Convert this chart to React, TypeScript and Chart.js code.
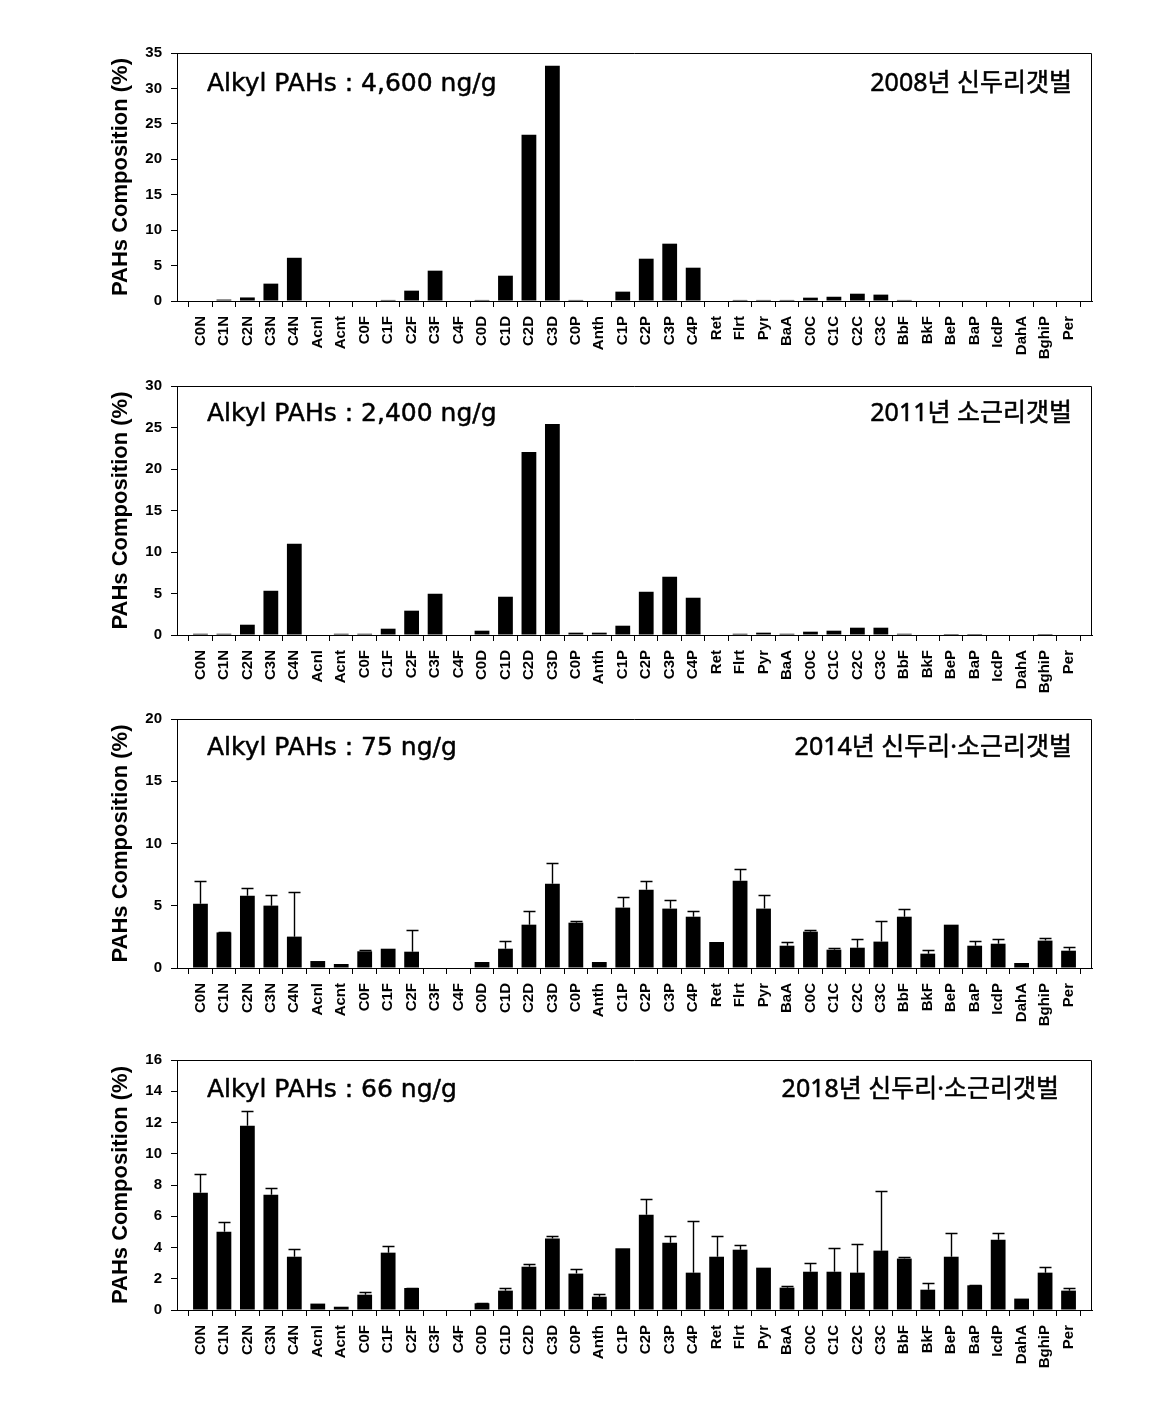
import React, { useEffect, useRef } from 'react';
import { Chart, registerables } from 'chart.js';

Chart.register(...registerables);

const CATEGORIES = [
  'C0N', 'C1N', 'C2N', 'C3N', 'C4N', 'Acnl', 'Acnt', 'C0F', 'C1F', 'C2F', 'C3F', 'C4F',
  'C0D', 'C1D', 'C2D', 'C3D', 'C0P', 'Anth', 'C1P', 'C2P', 'C3P', 'C4P', 'Ret', 'Flrt',
  'Pyr', 'BaA', 'C0C', 'C1C', 'C2C', 'C3C', 'BbF', 'BkF', 'BeP', 'BaP', 'IcdP', 'DahA',
  'BghiP', 'Per',
];

const VALUES_2008 = [
  0, 0.2, 0.5, 2.45, 6.1, 0, 0, 0, 0.15, 1.46, 4.28, 0,
  0.15, 3.57, 23.47, 33.2, 0.15, 0, 1.32, 5.97, 8.09, 4.7, 0, 0.15,
  0.15, 0.15, 0.47, 0.6, 1.03, 0.9, 0.15, 0, 0, 0, 0, 0,
  0, 0,
];

const VALUES_2011 = [
  0.15, 0.15, 1.24, 5.33, 10.99, 0, 0.15, 0.15, 0.76, 2.93, 4.97, 0,
  0.52, 4.61, 22.06, 25.43, 0.28, 0.28, 1.12, 5.21, 7.02, 4.49, 0, 0.15,
  0.28, 0.15, 0.4, 0.52, 0.88, 0.88, 0.15, 0, 0.12, 0.12, 0, 0,
  0.12, 0,
];

const VALUES_2014 = [
  5.17, 2.86, 5.81, 5.01, 2.52, 0.56, 0.32, 1.34, 1.55, 1.31, 0, 0,
  0.48, 1.55, 3.48, 6.77, 3.64, 0.48, 4.85, 6.29, 4.77, 4.12, 2.09, 7.01,
  4.77, 1.79, 2.92, 1.47, 1.63, 2.12, 4.12, 1.15, 3.48, 1.79, 1.95, 0.4,
  2.2, 1.39,
];
const ERRORS_2014 = [
  1.82, 0.05, 0.62, 0.85, 3.6, 0, 0, 0.13, 0, 1.74, 0, 0,
  0, 0.64, 1.1, 1.66, 0.16, 0, 0.85, 0.7, 0.7, 0.46, 0, 0.94,
  1.1, 0.3, 0.16, 0.14, 0.7, 1.66, 0.62, 0.3, 0, 0.4, 0.38, 0,
  0.21, 0.3,
];

const VALUES_2018 = [
  7.51, 5.01, 11.8, 7.38, 3.41, 0.41, 0.21, 0.98, 3.67, 1.41, 0, 0,
  0.43, 1.24, 2.77, 4.57, 2.33, 0.85, 3.95, 6.1, 4.31, 2.39, 3.41, 3.86,
  2.71, 1.43, 2.45, 2.45, 2.39, 3.8, 3.29, 1.3, 3.41, 1.58, 4.5, 0.73,
  2.39, 1.24,
];
const ERRORS_2018 = [
  1.19, 0.62, 0.96, 0.45, 0.49, 0, 0, 0.17, 0.43, 0.03, 0, 0,
  0.03, 0.17, 0.17, 0.17, 0.3, 0.17, 0, 1.0, 0.43, 3.31, 1.33, 0.3,
  0, 0.11, 0.55, 1.52, 1.83, 3.82, 0.1, 0.43, 1.52, 0.03, 0.43, 0,
  0.36, 0.17,
];

const LEFT_TEXTS = [
  'Alkyl PAHs : 4,600 ng/g',
  'Alkyl PAHs : 2,400 ng/g',
  'Alkyl PAHs : 75 ng/g',
  'Alkyl PAHs : 66 ng/g',
];
const RIGHT_TEXTS = [
  '2008년 신두리갯벌',
  '2011년 소근리갯벌',
  '2014년 신두리·소근리갯벌',
  '2018년 신두리·소근리갯벌',
];
const Y_MAX = [35, 30, 20, 16];
const Y_STEP = [5, 5, 5, 2];
const Y_TITLE = 'PAHs Composition (%)';

type PanelCfg = {
  values: number[];
  errors: number[] | null;
  yMax: number;
  yStep: number;
  leftText: string;
  rightText: string;
  top: number;
  plotHeight: number;
  textDy: number;
  rightInset: number;
};

const PANELS: PanelCfg[] = [
  { values: VALUES_2008, errors: null, yMax: Y_MAX[0], yStep: Y_STEP[0], leftText: LEFT_TEXTS[0], rightText: RIGHT_TEXTS[0], top: 53, plotHeight: 248, textDy: 38, rightInset: 20 },
  { values: VALUES_2011, errors: null, yMax: Y_MAX[1], yStep: Y_STEP[1], leftText: LEFT_TEXTS[1], rightText: RIGHT_TEXTS[1], top: 386, plotHeight: 249, textDy: 34.5, rightInset: 20 },
  { values: VALUES_2014, errors: ERRORS_2014, yMax: Y_MAX[2], yStep: Y_STEP[2], leftText: LEFT_TEXTS[2], rightText: RIGHT_TEXTS[2], top: 719, plotHeight: 249, textDy: 36, rightInset: 20 },
  { values: VALUES_2018, errors: ERRORS_2018, yMax: Y_MAX[3], yStep: Y_STEP[3], leftText: LEFT_TEXTS[3], rightText: RIGHT_TEXTS[3], top: 1060, plotHeight: 250, textDy: 36.7, rightInset: 33 },
];

const PAD_TOP = 20;
const X_AXIS_H = 80;
const CANVAS_W = 1150;
const Y_AXIS_W = 177;
const PAD_RIGHT = 58;
const AXIS_FONT = { family: '"Liberation Sans", Arial, sans-serif', size: 15, weight: 'bold' as const };

function Panel({ cfg }: { cfg: PanelCfg }) {
  const ref = useRef<HTMLCanvasElement>(null);
  const H = PAD_TOP + cfg.plotHeight + X_AXIS_H;

  useEffect(() => {
    const canvas = ref.current;
    if (!canvas) return;

    const decor = {
      id: 'decor',
      afterDatasetsDraw(chart: any) {
        const errs = cfg.errors;
        if (!errs) return;
        const xs = chart.scales.x;
        const ys = chart.scales.y;
        const ctx = chart.ctx;
        ctx.save();
        ctx.strokeStyle = '#000';
        ctx.lineWidth = 1.4;
        errs.forEach((e, i) => {
          if (!e) return;
          const v = cfg.values[i];
          const x = Math.round(xs.getPixelForValue(i)) + 0.5;
          const y0 = ys.getPixelForValue(v);
          const y1 = Math.round(ys.getPixelForValue(v + e)) + 0.5;
          ctx.beginPath();
          ctx.moveTo(x, y0);
          ctx.lineTo(x, y1);
          ctx.moveTo(x - 6, y1);
          ctx.lineTo(x + 6, y1);
          ctx.stroke();
        });
        ctx.restore();
      },
      afterDraw(chart: any) {
        const { ctx, chartArea } = chart;
        const { left, right, top, bottom } = chartArea;
        ctx.save();
        ctx.strokeStyle = '#000';
        ctx.lineWidth = 1;
        ctx.beginPath();
        const t = Math.round(top) + 0.5;
        const r = Math.round(right) - 0.5;
        ctx.moveTo(Math.round(left), t);
        ctx.lineTo(r, t);
        ctx.lineTo(r, Math.round(bottom));
        ctx.stroke();

        ctx.fillStyle = '#000';
        ctx.strokeStyle = '#000';
        ctx.lineWidth = 0.5;
        ctx.lineJoin = 'round';
        ctx.textBaseline = 'alphabetic';
        ctx.font = '25px "DejaVu Sans", "Noto Sans CJK KR", sans-serif';
        ctx.textAlign = 'left';
        ctx.fillText(cfg.leftText, left + 30, top + cfg.textDy);
        ctx.strokeText(cfg.leftText, left + 30, top + cfg.textDy);
        ctx.font = '25px "Noto Sans", "Noto Sans CJK KR", sans-serif';
        ctx.textAlign = 'right';
        ctx.fillText(cfg.rightText, right - cfg.rightInset, top + cfg.textDy);
        ctx.strokeText(cfg.rightText, right - cfg.rightInset, top + cfg.textDy);
        ctx.restore();
      },
    };

    const chart = new Chart(canvas, {
      type: 'bar',
      data: {
        datasets: [
          {
            data: cfg.values.map((v, i) => ({ x: i, y: v })),
            backgroundColor: '#000',
            borderWidth: 0,
            barPercentage: 0.63,
            categoryPercentage: 1,
          },
        ],
      },
      options: {
        responsive: false,
        animation: false,
        maintainAspectRatio: false,
        layout: { padding: { top: PAD_TOP, right: PAD_RIGHT, left: 0, bottom: 0 } },
        plugins: { legend: { display: false }, tooltip: { enabled: false }, title: { display: false } },
        scales: {
          x: {
            type: 'linear',
            min: -1,
            max: CATEGORIES.length,
            offset: false,
            afterBuildTicks: (axis: any) => {
              axis.ticks = CATEGORIES.map((_, i) => ({ value: i }));
            },
            afterFit: (axis: any) => {
              axis.height = X_AXIS_H;
            },
            grid: { display: true, drawOnChartArea: false, drawTicks: true, tickLength: 6, color: '#000', lineWidth: 1 },
            border: { display: true, color: '#000', width: 1 },
            ticks: {
              autoSkip: false,
              maxRotation: 90,
              minRotation: 90,
              padding: 9,
              color: '#000',
              font: AXIS_FONT,
              callback: (value: any) => CATEGORIES[value] ?? '',
            },
          },
          y: {
            type: 'linear',
            min: 0,
            max: cfg.yMax,
            afterFit: (axis: any) => {
              axis.width = Y_AXIS_W;
            },
            grid: { display: true, drawOnChartArea: false, drawTicks: true, tickLength: 6, color: '#000', lineWidth: 1 },
            border: { display: true, color: '#000', width: 1 },
            ticks: { stepSize: cfg.yStep, padding: 9, color: '#000', font: AXIS_FONT },
            title: {
              display: true,
              text: Y_TITLE,
              color: '#000',
              font: { family: '"Liberation Sans", Arial, sans-serif', size: 22, weight: 'bold' },
              padding: { top: 108, bottom: 0 },
            },
          },
        },
      } as any,
      plugins: [decor],
    });
    return () => chart.destroy();
  }, []);

  return (
    <canvas
      ref={ref}
      width={CANVAS_W}
      height={H}
      style={{ position: 'absolute', left: 0, top: cfg.top - PAD_TOP, width: CANVAS_W, height: H }}
    />
  );
}

export default function App() {
  return (
    <div style={{ width: 1134, height: 1385 }}>
      {PANELS.map((p, i) => (
        <Panel key={i} cfg={p} />
      ))}
    </div>
  );
}
